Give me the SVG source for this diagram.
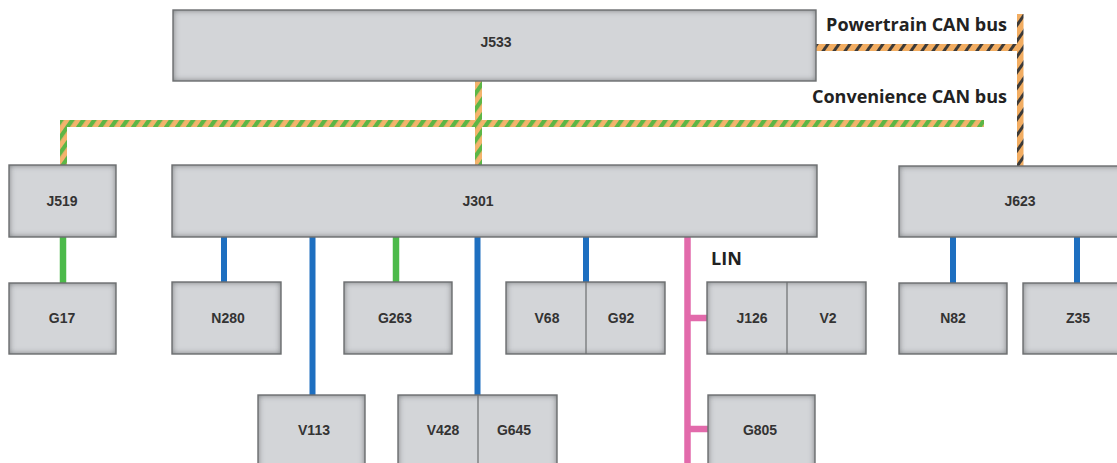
<svg xmlns="http://www.w3.org/2000/svg" width="1117" height="463" viewBox="0 0 1117 463">
<style>
.bx{fill:#d3d5d8}
.bo{fill:none;stroke:#6c6e70;stroke-width:1.4}
.dv{stroke:#6c6e70;stroke-width:1.2}
.lb{font-family:"Liberation Sans",Arial,sans-serif;font-weight:bold;font-size:14px;fill:#333;text-anchor:middle}
.bus{font-family:"Open Sans","Liberation Sans",sans-serif;font-weight:bold;font-size:18px;fill:#222}
.blue{stroke:#1e6fc0;stroke-width:6}
.green{stroke:#4cba4a;stroke-width:6.5}
.pink{stroke:#e26aab;stroke-width:6.5}
.conv{fill:url(#convS)}
.pwr{fill:url(#pwrS)}
</style>
<defs>
<filter id="bevel" x="-20%" y="-20%" width="140%" height="140%" color-interpolation-filters="sRGB">
<feFlood flood-color="#6f7174" flood-opacity="1" result="f"/>
<feComposite in="f" in2="SourceAlpha" operator="out" result="o"/>
<feGaussianBlur in="o" stdDeviation="3" result="b"/>
<feComposite in="b" in2="SourceAlpha" operator="in" result="s"/>
<feMerge><feMergeNode in="SourceGraphic"/><feMergeNode in="s"/></feMerge>
</filter>
<pattern id="convS" width="9" height="9" patternUnits="userSpaceOnUse" patternTransform="rotate(35)">
<rect width="9" height="9" fill="#f4b36c"/>
<rect width="4.2" height="9" fill="#5cb646"/>
</pattern>
<pattern id="pwrS" width="9" height="9" patternUnits="userSpaceOnUse" patternTransform="rotate(35)">
<rect width="9" height="9" fill="#f2ad62"/>
<rect width="3" height="9" fill="#3c3a38"/>
</pattern>
</defs>

<g id="connectors">
<rect class="conv" x="60" y="120" width="924" height="7"/>
<rect class="conv" x="60" y="120" width="7" height="46"/>
<rect class="conv" x="475" y="81" width="7" height="85"/>
<rect class="pwr" x="816" y="44" width="207" height="7"/>
<rect class="pwr" x="1017" y="14" width="6.5" height="153"/>
<line class="green" x1="63" y1="237" x2="63" y2="283"/>
<line class="blue" x1="224" y1="237" x2="224" y2="282"/>
<line class="blue" x1="312.5" y1="237" x2="312.5" y2="395"/>
<line class="green" x1="396" y1="237" x2="396" y2="282"/>
<line class="blue" x1="477.5" y1="237" x2="477.5" y2="395"/>
<line class="blue" x1="586" y1="237" x2="586" y2="282"/>
<line class="pink" x1="687.5" y1="237" x2="687.5" y2="463"/>
<line class="pink" x1="687" y1="318" x2="707" y2="318"/>
<line class="pink" x1="687" y1="429" x2="708" y2="429"/>
<line class="blue" x1="953" y1="237" x2="953" y2="283"/>
<line class="blue" x1="1077" y1="237" x2="1077" y2="283"/>
</g>

<g id="labels">
<text class="bus" x="1007" y="31" text-anchor="end">Powertrain CAN bus</text>
<text class="bus" x="1007" y="103" text-anchor="end">Convenience CAN bus</text>
<text class="bus" x="711" y="265">LIN</text>
</g>

<g id="J533"><rect class="bx" filter="url(#bevel)" x="173" y="10" width="643" height="71"/><rect class="bo" x="173" y="10" width="643" height="71"/><text class="lb" x="496" y="47">J533</text></g>
<g id="J519"><rect class="bx" filter="url(#bevel)" x="9" y="165" width="107" height="72"/><rect class="bo" x="9" y="165" width="107" height="72"/><text class="lb" x="62" y="206">J519</text></g>
<g id="J301"><rect class="bx" filter="url(#bevel)" x="172" y="165" width="645" height="72"/><rect class="bo" x="172" y="165" width="645" height="72"/><text class="lb" x="478" y="206">J301</text></g>
<g id="J623"><rect class="bx" filter="url(#bevel)" x="899" y="166" width="242" height="71"/><rect class="bo" x="899" y="166" width="242" height="71"/><text class="lb" x="1020" y="206">J623</text></g>
<g id="G17"><rect class="bx" filter="url(#bevel)" x="9" y="283" width="107" height="71"/><rect class="bo" x="9" y="283" width="107" height="71"/><text class="lb" x="62" y="323">G17</text></g>
<g id="N280"><rect class="bx" filter="url(#bevel)" x="172" y="282" width="109" height="72"/><rect class="bo" x="172" y="282" width="109" height="72"/><text class="lb" x="228" y="323">N280</text></g>
<g id="G263"><rect class="bx" filter="url(#bevel)" x="344" y="282" width="108" height="72"/><rect class="bo" x="344" y="282" width="108" height="72"/><text class="lb" x="395" y="323">G263</text></g>
<g id="V68-G92"><rect class="bx" filter="url(#bevel)" x="506" y="282" width="159" height="72"/><rect class="bo" x="506" y="282" width="159" height="72"/><line class="dv" x1="586" y1="282" x2="586" y2="354"/><text class="lb" x="547" y="323">V68</text><text class="lb" x="621" y="323">G92</text></g>
<g id="J126-V2"><rect class="bx" filter="url(#bevel)" x="707" y="282" width="159" height="72"/><rect class="bo" x="707" y="282" width="159" height="72"/><line class="dv" x1="787" y1="282" x2="787" y2="354"/><text class="lb" x="752" y="323">J126</text><text class="lb" x="828" y="323">V2</text></g>
<g id="N82"><rect class="bx" filter="url(#bevel)" x="899" y="283" width="108" height="71"/><rect class="bo" x="899" y="283" width="108" height="71"/><text class="lb" x="953" y="323">N82</text></g>
<g id="Z35"><rect class="bx" filter="url(#bevel)" x="1023" y="283" width="110" height="71"/><rect class="bo" x="1023" y="283" width="110" height="71"/><text class="lb" x="1078" y="323">Z35</text></g>
<g id="V113"><rect class="bx" filter="url(#bevel)" x="258" y="395" width="107" height="80"/><rect class="bo" x="258" y="395" width="107" height="80"/><text class="lb" x="314" y="435">V113</text></g>
<g id="V428-G645"><rect class="bx" filter="url(#bevel)" x="398" y="395" width="159" height="80"/><rect class="bo" x="398" y="395" width="159" height="80"/><line class="dv" x1="478" y1="395" x2="478" y2="475"/><text class="lb" x="443" y="435">V428</text><text class="lb" x="514" y="435">G645</text></g>
<g id="G805"><rect class="bx" filter="url(#bevel)" x="708" y="395" width="107" height="80"/><rect class="bo" x="708" y="395" width="107" height="80"/><text class="lb" x="760" y="435">G805</text></g>
</svg>
